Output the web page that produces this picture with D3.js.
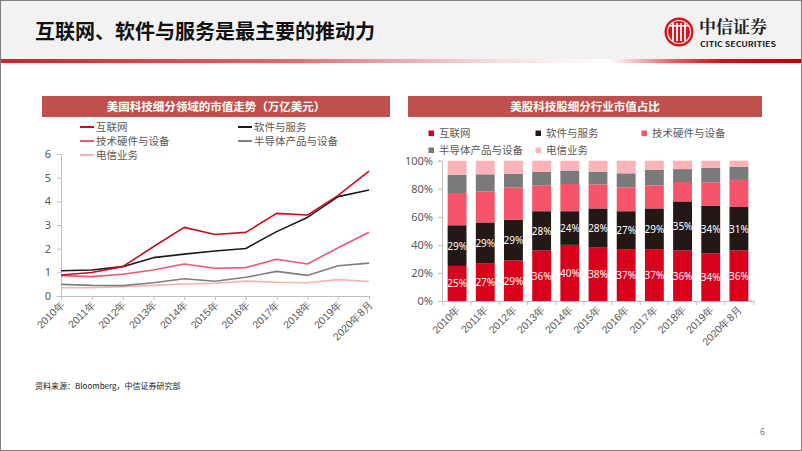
<!DOCTYPE html>
<html><head><meta charset="utf-8">
<script src="https://cdn.jsdelivr.net/npm/d3@7/dist/d3.min.js"></script>
<style>
html,body{margin:0;padding:0;background:#fff;}
svg{display:block;font-family:"Noto Sans CJK SC","Noto Sans",sans-serif;}
</style></head>
<body><svg id="c" width="802" height="451"></svg>
<script>
// ---------- data ----------
const years = ["2010年","2011年","2012年","2013年","2014年","2015年","2016年","2017年","2018年","2019年","2020年8月"];
const seriesNames = ["互联网","软件与服务","技术硬件与设备","半导体产品与设备","电信业务"];
// left chart: market cap, trillion USD
const capInternet = [0.89,0.99,1.24,2.08,2.90,2.60,2.69,3.49,3.42,4.25,5.28];
const capSoftware = [1.07,1.10,1.24,1.62,1.77,1.90,2.01,2.72,3.32,4.20,4.48];
const capHardware = [0.86,0.82,0.92,1.10,1.35,1.17,1.20,1.55,1.35,2.04,2.69];
const capSemi     = [0.49,0.45,0.44,0.56,0.73,0.62,0.79,1.04,0.87,1.28,1.39];
const capTelecom  = [0.35,0.35,0.39,0.45,0.51,0.54,0.63,0.58,0.56,0.69,0.61];
const capTicks = [0,1,2,3,4,5,6];
// right chart: share of market cap, %
const shInternet = [25,27,29,36,40,38,37,37,36,34,36];
const shSoftware = [29,29,29,28,24,28,27,29,35,34,31];
const shHardware = [23,22,22.8,18.2,19.4,17.1,17,16.4,13.8,16.6,19.3];
const shSemi     = [13,12.3,10,9.8,9.6,9.1,10,11.2,9.2,10.4,9.3];
const shTelecom  = [10,9.7,9.2,8,7,7.8,9,6.4,6,5,4.4];
const pctTicks = [0,20,40,60,80,100];

const colLine = ["#cc0a24","#1a1a1a","#f2566c","#7f7f7f","#f9b0b6"];
const colBar  = ["#d9001b","#231815","#f5546b","#7a7a7a","#fbb3b8"];

const svg = d3.select("#c");
const defs = svg.append("defs");
const g1 = defs.append("linearGradient").attr("id","stripe").attr("x1","0").attr("x2","1");
[[0,"#c0282d"],[0.35,"#d86a6c"],[0.62,"#f7dede"],[0.76,"#ffffff"],[0.84,"#e06060"],[0.9,"#c8141c"],[1,"#c00000"]]
  .forEach(s=>g1.append("stop").attr("offset",s[0]).attr("stop-color",s[1]));

// header
svg.append("rect").attr("x",0).attr("y",0).attr("width",802).attr("height",59).attr("fill","#f2f2f2");
svg.append("rect").attr("x",0).attr("y",59).attr("width",802).attr("height",4).attr("fill","url(#stripe)");
svg.append("text").attr("x",35).attr("y",39).attr("font-size",20).attr("font-weight","bold").attr("fill","#111")
  .text("互联网、软件与服务是最主要的推动力");
// logo
const lg = svg.append("g");
lg.append("circle").attr("cx",679).attr("cy",32).attr("r",14.5).attr("fill","#d7141c");
lg.append("circle").attr("cx",679).attr("cy",32).attr("r",11.5).attr("fill","none").attr("stroke","#fff").attr("stroke-width",1.2);
[-6,-2,2,6].forEach(dx=>lg.append("rect").attr("x",679+dx-0.9).attr("y",23).attr("width",1.8).attr("height",18).attr("fill","#fff"));
lg.append("rect").attr("x",670).attr("y",25).attr("width",18).attr("height",1.5).attr("fill","#fff");
lg.append("text").attr("x",699).attr("y",33).attr("font-size",17).attr("font-weight","bold").attr("fill","#222")
  .attr("font-family","'Noto Serif CJK SC','Noto Sans CJK SC',serif").text("中信证券");
lg.append("text").attr("x",700).attr("y",47).attr("font-size",7).attr("font-weight","bold").attr("fill","#222")
  .attr("textLength",76).attr("lengthAdjust","spacingAndGlyphs").text("CITIC SECURITIES");

// page border
svg.append("rect").attr("x",0.5).attr("y",0.5).attr("width",801).attr("height",450).attr("fill","none").attr("stroke","#7f7f7f");

// ---------- left chart ----------
svg.append("rect").attr("x",42).attr("y",96).attr("width",348).attr("height",21).attr("fill","#c0504d");
svg.append("text").attr("x",216).attr("y",111).attr("text-anchor","middle").attr("font-size",11.5).attr("font-weight","bold")
  .attr("fill","#fff").text("美国科技细分领域的市值走势（万亿美元）");

const lx = d3.scalePoint().domain(years).range([61,369]);
const ly = d3.scaleLinear().domain([0,6]).range([296,154]);
const capSeries = [capInternet,capSoftware,capHardware,capSemi,capTelecom];

const ax1 = svg.append("g").attr("transform","translate(61,0)")
  .call(d3.axisLeft(ly).tickValues(capTicks).tickSize(4).tickPadding(6).tickFormat(d3.format("d")));
ax1.select(".domain").attr("stroke","#bfbfbf");
ax1.selectAll(".tick line").attr("stroke","#bfbfbf");
ax1.selectAll("text").attr("font-size",11).attr("fill","#595959").attr("font-family","'Noto Sans','DejaVu Sans',sans-serif");

const ax2 = svg.append("g").attr("transform","translate(0,296)")
  .call(d3.axisBottom(lx).tickSize(4).tickSizeOuter(0));
ax2.select(".domain").attr("stroke","#bfbfbf");
ax2.selectAll(".tick line").attr("stroke","#bfbfbf");
ax2.selectAll("text").attr("font-size",10.5).attr("fill","#595959")
  .attr("text-anchor","end").attr("dy",null).attr("y",null)
  .attr("transform","translate(4,9) rotate(-45)");

const line = d3.line().x((d,i)=>lx(years[i])).y(d=>ly(d));
// draw in reverse so internet is on top
[4,3,2,1,0].forEach(k=>{
  svg.append("path").datum(capSeries[k]).attr("d",line).attr("fill","none")
    .attr("stroke",colLine[k]).attr("stroke-width",1.6).attr("stroke-linejoin","round");
});

// left legend
const legL = [[80,127],[238,127],[80,141],[238,141],[80,155]];
seriesNames.forEach((n,k)=>{
  svg.append("line").attr("x1",legL[k][0]).attr("x2",legL[k][0]+14).attr("y1",legL[k][1]).attr("y2",legL[k][1])
    .attr("stroke",colLine[k]).attr("stroke-width",2);
  svg.append("text").attr("x",legL[k][0]+16).attr("y",legL[k][1]+4).attr("font-size",10.5).attr("fill","#595959").text(n);
});

// ---------- right chart ----------
svg.append("rect").attr("x",408).attr("y",96).attr("width",354).attr("height",21).attr("fill","#c0504d");
svg.append("text").attr("x",585).attr("y",111).attr("text-anchor","middle").attr("font-size",11.5).attr("font-weight","bold")
  .attr("fill","#fff").text("美股科技股细分行业市值占比");

const bx = d3.scaleBand().domain(years).range([442,754]).paddingInner(0.33).paddingOuter(0.2);
const by = d3.scaleLinear().domain([0,100]).range([301,160.7]);
const rows = years.map((y,i)=>({year:y,s0:shInternet[i],s1:shSoftware[i],s2:shHardware[i],s3:shSemi[i],s4:shTelecom[i]}));
const stack = d3.stack().keys(["s0","s1","s2","s3","s4"])(rows);

stack.forEach((layer,k)=>{
  svg.append("g").selectAll("rect").data(layer).join("rect")
    .attr("x",d=>bx(d.data.year)).attr("width",bx.bandwidth())
    .attr("y",d=>by(Math.min(100,d[1]))).attr("height",d=>by(d[0])-by(Math.min(100,d[1])))
    .attr("fill",colBar[k]);
});
// labels for internet and software
[0,1].forEach(k=>{
  svg.append("g").selectAll("text").data(stack[k]).join("text")
    .attr("x",d=>bx(d.data.year)+bx.bandwidth()/2).attr("y",d=>(by(d[0])+by(d[1]))/2+4)
    .attr("text-anchor","middle").attr("font-size",10).attr("fill","#fff")
    .attr("font-family","'Noto Sans','DejaVu Sans',sans-serif")
    .text(d=>Math.round(d[1]-d[0])+"%");
});

const ax3 = svg.append("g").attr("transform","translate(442,0)")
  .call(d3.axisLeft(by).tickValues(pctTicks).tickSize(4).tickPadding(5).tickFormat(d=>d+"%"));
ax3.select(".domain").attr("stroke","#bfbfbf");
ax3.selectAll(".tick line").attr("stroke","#bfbfbf");
ax3.selectAll("text").attr("font-size",11).attr("fill","#595959").attr("font-family","'Noto Sans','DejaVu Sans',sans-serif");

const ax4 = svg.append("g").attr("transform","translate(0,301)")
  .call(d3.axisBottom(bx).tickSize(0).tickSizeOuter(0));
ax4.select(".domain").attr("stroke","#bfbfbf");
ax4.selectAll(".tick line").remove();
ax4.selectAll("text").attr("font-size",10.5).attr("fill","#595959")
  .attr("text-anchor","end").attr("dy",null).attr("y",null)
  .attr("transform","translate(4,9) rotate(-45)");
// tick marks at band boundaries
const bounds = years.map(y=>bx(y)-bx.step()*bx.paddingInner()/2).concat([754]);
svg.append("g").selectAll("line").data(bounds).join("line")
  .attr("x1",d=>d).attr("x2",d=>d).attr("y1",301).attr("y2",305).attr("stroke","#bfbfbf");

// right legend
const legR = [[431,133],[538,133],[644,133],[431,150],[538,150]];
seriesNames.forEach((n,k)=>{
  svg.append("rect").attr("x",legR[k][0]-2.5).attr("y",legR[k][1]-2.5).attr("width",5.5).attr("height",5.5).attr("fill",colBar[k]);
  svg.append("text").attr("x",legR[k][0]+8).attr("y",legR[k][1]+4).attr("font-size",10.5).attr("fill","#595959").text(n);
});

// footer
svg.append("text").attr("x",35).attr("y",389).attr("font-size",8).attr("fill","#222").text("资料来源：Bloomberg，中信证券研究部");
svg.append("text").attr("x",760).attr("y",435).attr("font-size",9).attr("fill","#7f7f7f").text("6");
</script></body></html>
